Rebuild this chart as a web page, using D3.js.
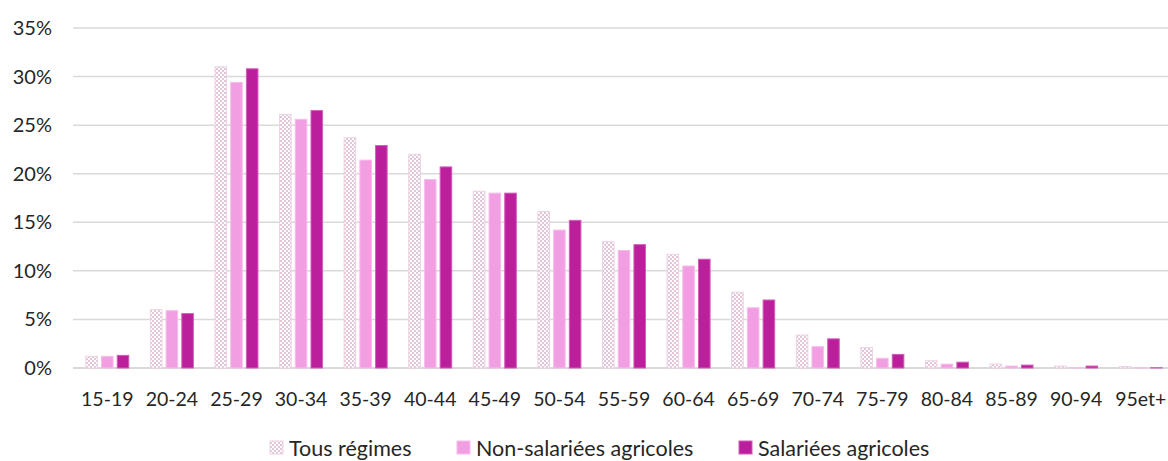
<!DOCTYPE html>
<html><head><meta charset="utf-8">
<script src="https://cdn.jsdelivr.net/npm/d3@7"></script>
<style>body{margin:0;background:#fff;} svg{display:block;font-family:Lato,"Open Sans",sans-serif;}</style>
</head><body>
<svg id="c" width="1168" height="461"></svg>
<script>
const categories = ["15-19","20-24","25-29","30-34","35-39","40-44","45-49","50-54","55-59","60-64","65-69","70-74","75-79","80-84","85-89","90-94","95et+"];
const seriesNames = ["Tous régimes","Non-salariées agricoles","Salariées agricoles"];
const tous = [1.2, 6.0, 31.0, 26.1, 23.7, 22.0, 18.2, 16.1, 13.0, 11.7, 7.8, 3.4, 2.1, 0.75, 0.4, 0.2, 0.15];
const nonSal = [1.2, 5.9, 29.4, 25.6, 21.4, 19.4, 18.0, 14.2, 12.1, 10.5, 6.2, 2.2, 1.0, 0.4, 0.2, 0.05, 0.02];
const sal = [1.3, 5.6, 30.8, 26.5, 22.9, 20.7, 18.0, 15.2, 12.7, 11.2, 7.0, 3.0, 1.4, 0.6, 0.3, 0.2, 0.03];
const yTicks = [0,5,10,15,20,25,30,35];
const colors = ["url(#chk)", "#F29EE2", "#BC1F9C"];
const strokes = ["#EBD3E3", "#F6BDEB", "#D25DB9"];

const svg = d3.select("#c");
const defs = svg.append("defs");
const pat = defs.append("pattern").attr("id","chk").attr("patternUnits","userSpaceOnUse").attr("width",4).attr("height",4);
pat.append("rect").attr("width",4).attr("height",4).attr("fill","#fff");
pat.append("rect").attr("width",2).attr("height",2).attr("fill","#E4C4D9");
pat.append("rect").attr("x",2).attr("y",2).attr("width",2).attr("height",2).attr("fill","#E4C4D9");

const L = 75, R = 1173, T = 28, B = 368;
const x = d3.scaleBand().domain(categories).range([L, R]).padding(0);
const y = d3.scaleLinear().domain([0,35]).range([B, T]);
const xs = d3.scaleBand().domain([0,1,2]).range([0, 44]).paddingInner(0.2);

// grid
svg.append("g").selectAll("line").data(yTicks).join("line")
  .attr("x1", 73).attr("x2", 1168).attr("y1", d=>y(d)).attr("y2", d=>y(d))
  .attr("stroke", "#D9D9D9").attr("stroke-width", d=> d===0?2:1.5);

// y labels
svg.append("g").selectAll("text").data(yTicks).join("text")
  .attr("x", 52).attr("y", d=>y(d)).attr("dy","0.35em").attr("text-anchor","end")
  .attr("font-size", 20).attr("fill","#262626").text(d=>d+"%");

const series = [tous, nonSal, sal];
series.forEach((vals, si) => {
  svg.append("g").selectAll("rect").data(vals).join("rect")
    .attr("x", (d,i)=> x(categories[i]) + x.bandwidth()/2 - 22 + xs(si) + 0.5)
    .attr("width", xs.bandwidth() - 1)
    .attr("y", d=> y(d))
    .attr("height", d=> Math.max(0, B - y(d)))
    .attr("fill", colors[si])
    .attr("stroke", strokes[si]).attr("stroke-width", 1);
});

// x labels
svg.append("g").selectAll("text").data(categories).join("text")
  .attr("x", d=> x(d) + x.bandwidth()/2).attr("y", 406).attr("text-anchor","middle")
  .attr("font-size", 19.5).attr("fill","#262626").text(d=>d);

// legend
const legX = [270, 457, 739];
const lg = svg.append("g");
seriesNames.forEach((n, i) => {
  lg.append("rect").attr("x", legX[i]).attr("y", 441).attr("width", 13).attr("height", 13)
    .attr("fill", colors[i]).attr("stroke", strokes[i]);
  lg.append("text").attr("x", legX[i] + 19).attr("y", 448).attr("dy","0.35em")
    .attr("font-size", 21.5).attr("fill","#262626").text(n);
});
</script>
</body></html>
